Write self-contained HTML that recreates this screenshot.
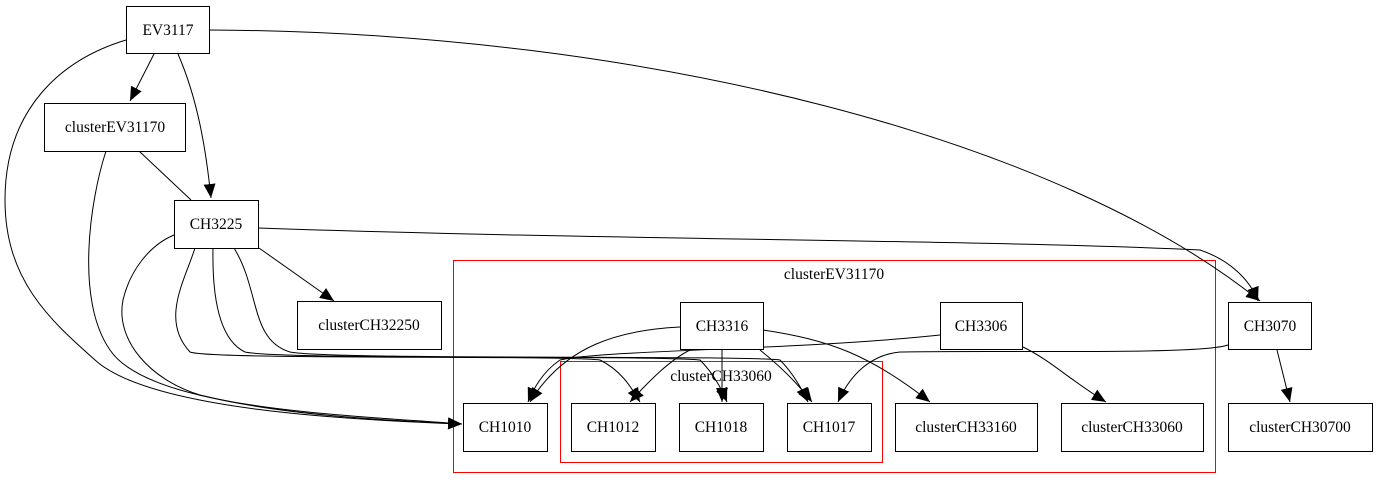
<!DOCTYPE html>
<html><head><meta charset="utf-8"><style>html,body{margin:0;padding:0;background:#fff}svg{display:block}</style></head>
<body>
<svg width="1377" height="489" viewBox="0 0 1377 489" xmlns="http://www.w3.org/2000/svg" font-family="'Liberation Serif', serif" font-size="15.5">
<defs>
<marker id="a" markerUnits="userSpaceOnUse" markerWidth="16" markerHeight="14" refX="14" refY="6" orient="auto"><path d="M0,0 L14,6 L0,12 Z" fill="#000"/></marker>
</defs>
<rect width="1377" height="489" fill="#fff"/>
<g fill="none" stroke="#f00" stroke-width="1">
<rect x="453.5" y="260.5" width="762" height="212"/>
<rect x="560.5" y="361.5" width="322" height="101"/>
</g>
<text x="834" y="279" text-anchor="middle">clusterEV31170</text>
<text x="721" y="381" text-anchor="middle">clusterCH33060</text>
<g fill="none" stroke="#000" stroke-width="1">
<path d="M154,54 L130,101" marker-end="url(#a)"/>
<path d="M178,54 C198,100 206,150 211,198" marker-end="url(#a)"/>
<path d="M126,40 C60,60 5,110 5,200 C5,280 50,320 95,360 C150,410 350,420 462,424" marker-end="url(#a)"/>
<path d="M210,30 C650,32 1060,140 1260,301" marker-end="url(#a)"/>
<path d="M139,151 L191,200"/>
<path d="M106,151 C90,200 75,300 110,350 C150,410 350,415 462,424"/>
<path d="M258,228 C600,240 1000,240 1200,250 C1230,260 1250,280 1258,301" marker-end="url(#a)"/>
<path d="M259,248 L334,301" marker-end="url(#a)"/>
<path d="M174,235 C150,245 130,270 123,300 C115,340 150,380 200,395 C280,415 380,420 462,424" marker-end="url(#a)"/>
<path d="M195,248 C185,280 160,320 190,352 C210,360 560,355 600,360 C620,370 630,385 640,402" marker-end="url(#a)"/>
<path d="M213,248 C212,300 220,340 245,352 C280,360 650,355 700,360 C710,370 720,385 727,402" marker-end="url(#a)"/>
<path d="M234,248 C260,290 250,340 290,352 C330,360 740,355 780,360 C790,370 800,385 808,402" marker-end="url(#a)"/>
<path d="M680,327 C620,330 565,345 530,402" marker-end="url(#a)"/>
<path d="M690,350 C670,360 650,380 630,402" marker-end="url(#a)"/>
<path d="M722,350 L722,402" marker-end="url(#a)"/>
<path d="M760,350 C775,362 795,380 812,402" marker-end="url(#a)"/>
<path d="M763,330 C830,340 870,355 930,402" marker-end="url(#a)"/>
<path d="M940,335 C800,350 600,350 560,360 C545,370 535,385 528,402" marker-end="url(#a)"/>
<path d="M1023,347 C1050,360 1070,380 1106,402" marker-end="url(#a)"/>
<path d="M1228,345 C1200,355 1000,350 900,352 C870,355 850,375 838,402" marker-end="url(#a)"/>
<path d="M1277,350 L1290,402" marker-end="url(#a)"/>
</g>
<g fill="#fff" stroke="#000" stroke-width="1">
<rect x="126.5" y="6.5" width="83" height="47"/>
<rect x="44.5" y="103.5" width="141" height="48"/>
<rect x="174.5" y="200.5" width="84" height="48"/>
<rect x="297.5" y="301.5" width="144" height="48"/>
<rect x="680.5" y="302.5" width="83" height="47"/>
<rect x="940.5" y="302.5" width="82" height="47"/>
<rect x="1228.5" y="302.5" width="83" height="47"/>
<rect x="463.5" y="403.5" width="84" height="48"/>
<rect x="571.5" y="403.5" width="84" height="48"/>
<rect x="679.5" y="403.5" width="84" height="48"/>
<rect x="787.5" y="403.5" width="84" height="48"/>
<rect x="895.5" y="403.5" width="142" height="48"/>
<rect x="1061.5" y="403.5" width="142" height="48"/>
<rect x="1228.5" y="403.5" width="144" height="48"/>
</g>
<g text-anchor="middle" fill="#000">
<text x="168" y="35">EV3117</text>
<text x="115" y="132">clusterEV31170</text>
<text x="216" y="229">CH3225</text>
<text x="369" y="330">clusterCH32250</text>
<text x="722" y="331">CH3316</text>
<text x="981" y="331">CH3306</text>
<text x="1270" y="331">CH3070</text>
<text x="505" y="432">CH1010</text>
<text x="613" y="432">CH1012</text>
<text x="721" y="432">CH1018</text>
<text x="829" y="432">CH1017</text>
<text x="966" y="432">clusterCH33160</text>
<text x="1132" y="432">clusterCH33060</text>
<text x="1300" y="432">clusterCH30700</text>
</g>
</svg>
</body></html>
